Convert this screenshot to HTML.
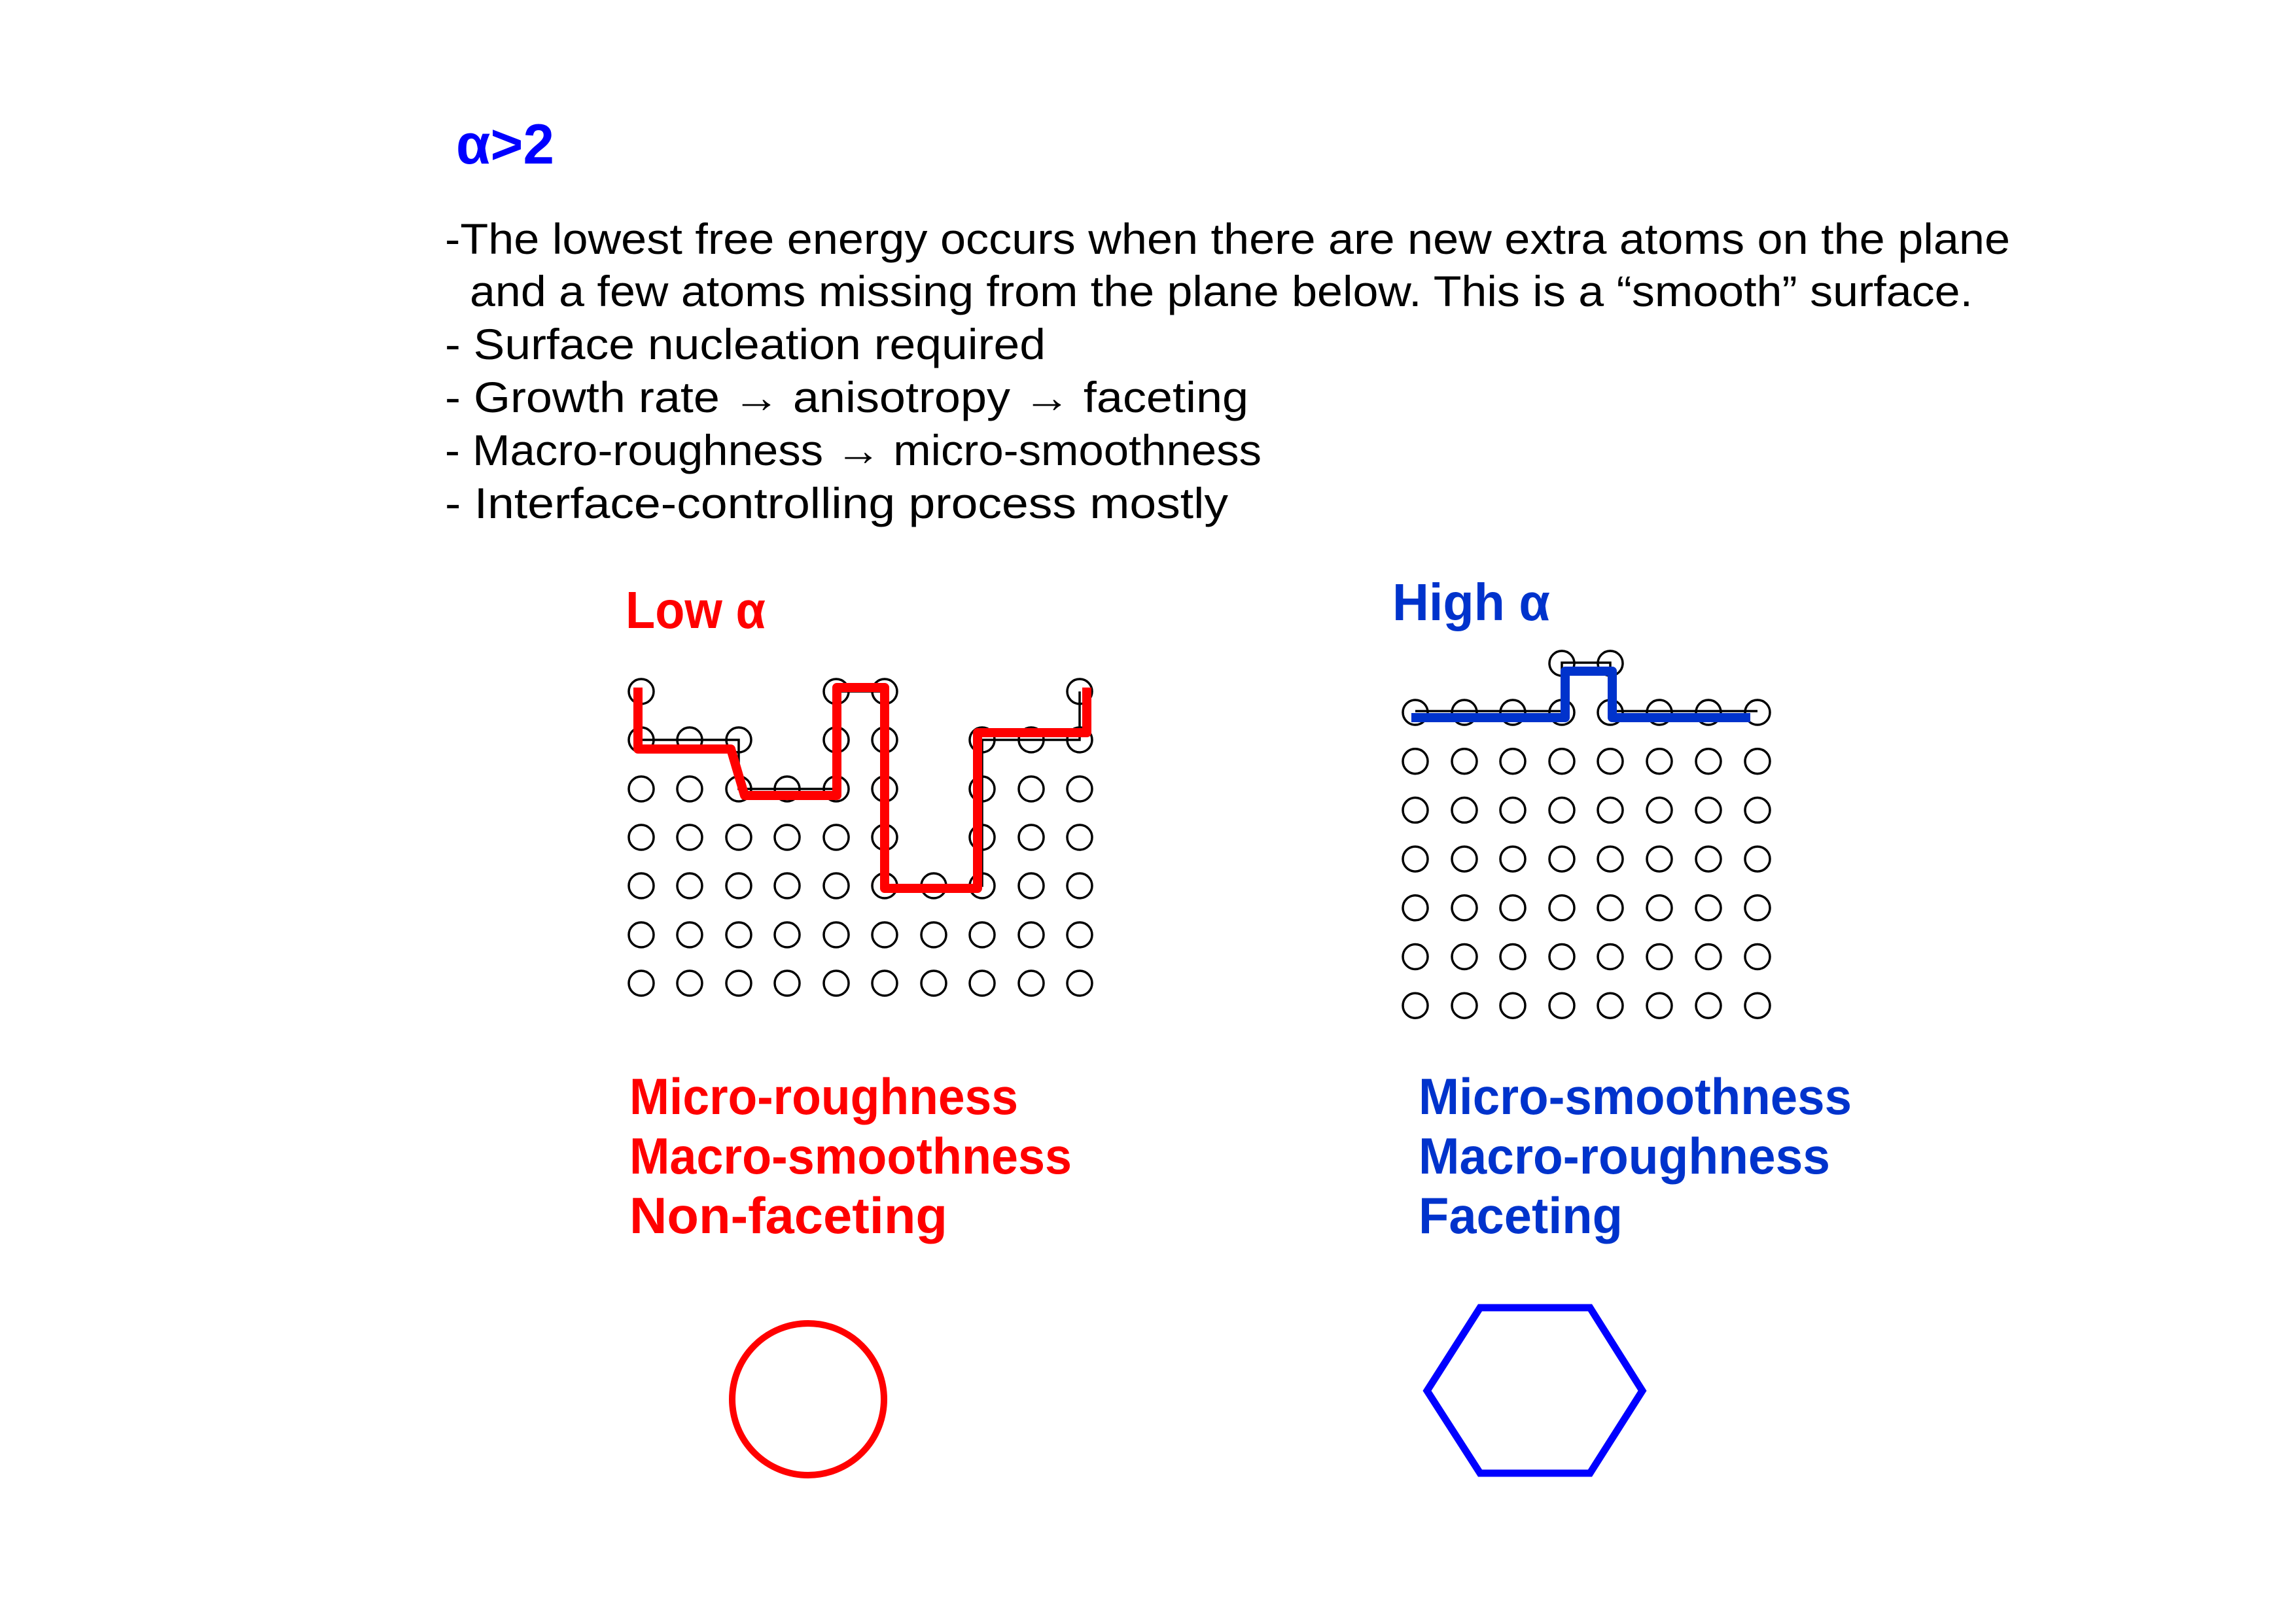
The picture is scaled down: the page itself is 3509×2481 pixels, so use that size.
<!DOCTYPE html>
<html><head><meta charset="utf-8"><style>
html,body{margin:0;padding:0;background:#fff;}
svg{display:block;}
text{font-family:"Liberation Sans Narrow","Liberation Sans",sans-serif;}
</style></head><body>
<svg width="3509" height="2481" viewBox="0 0 3509 2481" xmlns="http://www.w3.org/2000/svg">
<rect width="3509" height="2481" fill="#fff"/>
<text x="697" y="250" font-size="86" font-weight="bold" fill="#0000ff" textLength="150" lengthAdjust="spacingAndGlyphs">α&gt;2</text>
<g font-size="66" fill="#000">
<text x="680" y="388" textLength="2392" lengthAdjust="spacingAndGlyphs">-The lowest free energy occurs when there are new extra atoms on the plane</text>
<text x="718" y="468" textLength="2297" lengthAdjust="spacingAndGlyphs">and a few atoms missing from the plane below.  This is a “smooth” surface.</text>
<text x="680" y="549" textLength="918" lengthAdjust="spacingAndGlyphs">- Surface nucleation required</text>
<text x="680" y="630" textLength="1228" lengthAdjust="spacingAndGlyphs">- Growth rate → anisotropy → faceting</text>
<text x="680" y="711" textLength="1248" lengthAdjust="spacingAndGlyphs">- Macro-roughness → micro-smoothness</text>
<text x="680" y="792" textLength="1197" lengthAdjust="spacingAndGlyphs">- Interface-controlling process mostly</text>
</g>
<text x="956" y="960" font-size="80" font-weight="bold" fill="#ff0000" textLength="214" lengthAdjust="spacingAndGlyphs">Low α</text>
<text x="2128" y="948" font-size="80" font-weight="bold" fill="#0033cc" textLength="241" lengthAdjust="spacingAndGlyphs">High α</text>
<g font-size="78" font-weight="bold" fill="#ff0000">
<text x="962" y="1703" textLength="594" lengthAdjust="spacingAndGlyphs">Micro-roughness</text>
<text x="962" y="1794" textLength="676" lengthAdjust="spacingAndGlyphs">Macro-smoothness</text>
<text x="962" y="1885" textLength="486" lengthAdjust="spacingAndGlyphs">Non-faceting</text>
</g>
<g font-size="78" font-weight="bold" fill="#0033cc">
<text x="2168" y="1703" textLength="662" lengthAdjust="spacingAndGlyphs">Micro-smoothness</text>
<text x="2168" y="1794" textLength="629" lengthAdjust="spacingAndGlyphs">Macro-roughness</text>
<text x="2168" y="1885" textLength="312" lengthAdjust="spacingAndGlyphs">Faceting</text>
</g>
<!-- left grid -->
<g fill="none" stroke="#000" stroke-width="3.5" id="lg">
<script type="text/javascript">/* none */</script>
</g>
<g fill="none" stroke="#000" stroke-width="3.5">
<!-- row0 y=1057 -->
<circle cx="980" cy="1057" r="19"/><circle cx="1278" cy="1057" r="19"/><circle cx="1352" cy="1057" r="19"/><circle cx="1650" cy="1057" r="19"/>
<!-- row1 y=1131 -->
<circle cx="980" cy="1131" r="19"/><circle cx="1054" cy="1131" r="19"/><circle cx="1129" cy="1131" r="19"/><circle cx="1278" cy="1131" r="19"/><circle cx="1352" cy="1131" r="19"/><circle cx="1501" cy="1131" r="19"/><circle cx="1576" cy="1131" r="19"/><circle cx="1650" cy="1131" r="19"/>
<!-- row2 y=1206 -->
<circle cx="980" cy="1206" r="19"/><circle cx="1054" cy="1206" r="19"/><circle cx="1129" cy="1206" r="19"/><circle cx="1203" cy="1206" r="19"/><circle cx="1278" cy="1206" r="19"/><circle cx="1352" cy="1206" r="19"/><circle cx="1501" cy="1206" r="19"/><circle cx="1576" cy="1206" r="19"/><circle cx="1650" cy="1206" r="19"/>
<!-- row3 y=1280 -->
<circle cx="980" cy="1280" r="19"/><circle cx="1054" cy="1280" r="19"/><circle cx="1129" cy="1280" r="19"/><circle cx="1203" cy="1280" r="19"/><circle cx="1278" cy="1280" r="19"/><circle cx="1352" cy="1280" r="19"/><circle cx="1501" cy="1280" r="19"/><circle cx="1576" cy="1280" r="19"/><circle cx="1650" cy="1280" r="19"/>
<!-- row4 y=1354 -->
<circle cx="980" cy="1354" r="19"/><circle cx="1054" cy="1354" r="19"/><circle cx="1129" cy="1354" r="19"/><circle cx="1203" cy="1354" r="19"/><circle cx="1278" cy="1354" r="19"/><circle cx="1352" cy="1354" r="19"/><circle cx="1427" cy="1354" r="19"/><circle cx="1501" cy="1354" r="19"/><circle cx="1576" cy="1354" r="19"/><circle cx="1650" cy="1354" r="19"/>
<!-- row5 y=1429 -->
<circle cx="980" cy="1429" r="19"/><circle cx="1054" cy="1429" r="19"/><circle cx="1129" cy="1429" r="19"/><circle cx="1203" cy="1429" r="19"/><circle cx="1278" cy="1429" r="19"/><circle cx="1352" cy="1429" r="19"/><circle cx="1427" cy="1429" r="19"/><circle cx="1501" cy="1429" r="19"/><circle cx="1576" cy="1429" r="19"/><circle cx="1650" cy="1429" r="19"/>
<!-- row6 y=1503 -->
<circle cx="980" cy="1503" r="19"/><circle cx="1054" cy="1503" r="19"/><circle cx="1129" cy="1503" r="19"/><circle cx="1203" cy="1503" r="19"/><circle cx="1278" cy="1503" r="19"/><circle cx="1352" cy="1503" r="19"/><circle cx="1427" cy="1503" r="19"/><circle cx="1501" cy="1503" r="19"/><circle cx="1576" cy="1503" r="19"/><circle cx="1650" cy="1503" r="19"/>
<polyline points="980,1131 1129,1131 1129,1206 1278,1206 1278,1057 1352,1057 1352,1354 1501,1354 1501,1131 1650,1131 1650,1057"/>
</g>
<polyline fill="none" stroke="#ff0000" stroke-width="14" stroke-linejoin="round" points="975,1051 975,1145 1117,1145 1138,1216 1279,1216 1279,1051 1352,1051 1352,1358 1494,1358 1494,1120 1661,1120 1661,1051"/>
<!-- right grid -->
<g fill="none" stroke="#000" stroke-width="3.5">
<circle cx="2387" cy="1014" r="19"/><circle cx="2461" cy="1014" r="19"/>
<g id="rrows">
<circle cx="2163" cy="1089" r="19"/><circle cx="2238" cy="1089" r="19"/><circle cx="2312" cy="1089" r="19"/><circle cx="2387" cy="1089" r="19"/><circle cx="2461" cy="1089" r="19"/><circle cx="2536" cy="1089" r="19"/><circle cx="2611" cy="1089" r="19"/><circle cx="2686" cy="1089" r="19"/>
</g>
<use href="#rrows" y="74.7"/><use href="#rrows" y="149.4"/><use href="#rrows" y="224.1"/><use href="#rrows" y="298.8"/><use href="#rrows" y="373.5"/><use href="#rrows" y="448.2"/>
<polyline points="2163,1087 2387,1087 2387,1013 2461,1013 2461,1087 2686,1087"/>
</g>
<polyline fill="none" stroke="#0033cc" stroke-width="14" stroke-linejoin="round" points="2157,1097 2392,1097 2392,1026 2464,1026 2464,1097 2675,1097"/>
<circle cx="1235" cy="2139" r="116" fill="none" stroke="#ff0000" stroke-width="10"/>
<polygon points="2181,2126 2262,1999 2430,1999 2510,2126 2430,2252 2262,2252" fill="none" stroke="#0000ff" stroke-width="11"/>
</svg>
</body></html>
